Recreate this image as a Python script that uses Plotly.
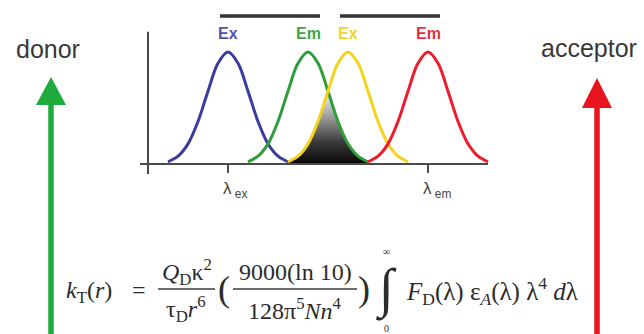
import plotly.graph_objects as go

W, H = 644, 334

# ---- data (schematic spectra, relative intensity) ----
offsets = [-60, -50, -40, -30, -20, -10, 0, 10, 20, 30, 40, 50, 60]          # nm from peak
profile = [0.02, 0.07, 0.18, 0.38, 0.65, 0.90, 1.0, 0.90, 0.65, 0.38, 0.18, 0.07, 0.02]
peak_names = ["Ex", "Em", "Ex", "Em"]
peak_nm = [430, 510, 550, 630]            # donor Ex, donor Em, acceptor Ex, acceptor Em
line_colors = ["#3b3b9e", "#2f9e3a", "#f5d31a", "#ec1c2c"]
label_colors = ["#5252aa", "#42a446", "#f2d22a", "#e8303e"]
tick_labels = ["λ<sub> ex</sub>", "λ<sub> em</sub>"]
tick_nm = [430, 630]

def px(x):
    return x / W

def py(y):
    return 1 - y / H

fig = go.Figure()

# overlap integral (min of donor emission and acceptor excitation)
g = {peak_nm[1] + o: v for o, v in zip(offsets, profile)}
yv = {peak_nm[2] + o: v for o, v in zip(offsets, profile)}
ov_x = sorted(set(g) & set(yv))
ov_y = [min(g[x], yv[x]) for x in ov_x]
fig.add_trace(go.Scatter(
    x=ov_x, y=ov_y, mode="lines", line=dict(width=0, shape="spline"),
    fill="tozeroy",
    fillgradient=dict(type="vertical", start=0, stop=max(ov_y),
                      colorscale=[[0, "#050505"], [0.3, "#3a3a3a"], [0.65, "#9e9e9e"], [1, "#f6f6f6"]]),
    hoverinfo="skip", showlegend=False))

for pk, col in zip(peak_nm, line_colors):
    fig.add_trace(go.Scatter(
        x=[pk + o for o in offsets], y=profile, mode="lines",
        line=dict(color=col, width=3, shape="spline"),
        hoverinfo="skip", showlegend=False))

shapes = []
axc = "#4a4a4a"
# axes
shapes.append(dict(type="line", xref="x", yref="y", x0=342, x1=690, y0=0, y1=0,
                   line=dict(color=axc, width=2)))
shapes.append(dict(type="line", xref="x", yref="y", x0=350, x1=350, y0=-0.09, y1=1.18,
                   line=dict(color=axc, width=2)))
for t in tick_nm:
    shapes.append(dict(type="line", xref="x", yref="y", x0=t, x1=t, y0=0, y1=-0.08,
                       line=dict(color=axc, width=2)))
# pair bars
for a, b in [(0, 1), (2, 3)]:
    shapes.append(dict(type="line", xref="x", yref="paper",
                       x0=peak_nm[a] - 8, x1=peak_nm[b] + 12, y0=py(16), y1=py(16),
                       line=dict(color="#333333", width=3.5)))

# arrows
def arrow(x, tip, base, half, col):
    shapes.append(dict(type="line", xref="paper", yref="paper",
                       x0=px(x), x1=px(x), y0=py(H + 5), y1=py(base - 2),
                       line=dict(color=col, width=5.5)))
    shapes.append(dict(type="path", xref="paper", yref="paper",
                       path=f"M {px(x)} {py(tip)} L {px(x - half)} {py(base)} L {px(x + half)} {py(base)} Z",
                       fillcolor=col, line=dict(width=0)))

arrow(51, 77, 105, 15, "#1eaa3c")
arrow(597, 78, 108, 15, "#e8141e")

# fraction bars
for x0, x1 in [(158, 215), (233, 357)]:
    shapes.append(dict(type="line", xref="paper", yref="paper",
                       x0=px(x0), x1=px(x1), y0=py(289), y1=py(289),
                       line=dict(color="#3a3a3a", width=1.3)))

ann = []
for name, pk, col in zip(peak_names, peak_nm, label_colors):
    ann.append(dict(text=f"<b>{name}</b>", x=pk, y=py(33), xref="x", yref="paper",
                    xanchor="center", yanchor="middle",
                    showarrow=False, font=dict(family="Liberation Sans", size=16, color=col)))
for lab, t in zip(tick_labels, tick_nm):
    ann.append(dict(text=lab, x=t - 7, y=py(190), xref="x", yref="paper", xanchor="left",
                    yanchor="middle",
                    showarrow=False, font=dict(family="Liberation Sans", size=17, color="#444")))

sans = dict(family="Liberation Sans", size=25, color="#383838")
ann.append(dict(text="donor", x=px(48), y=py(49), xref="paper", yref="paper", xanchor="center",
                yanchor="middle", showarrow=False, font=sans))
ann.append(dict(text="acceptor", x=px(589), y=py(48), xref="paper", yref="paper", xanchor="center",
                yanchor="middle", showarrow=False, font=sans))

serif = "Liberation Serif"
fc = "#2c2c2c"
def t(text, x, y, size=24, xanchor="center"):
    ann.append(dict(text=text, x=px(x), y=py(y), xref="paper", yref="paper", xanchor=xanchor,
                    yanchor="middle", showarrow=False, font=dict(family=serif, size=size, color=fc)))

t("<i>k</i><sub>T</sub>(<i>r</i>)", 64, 292, xanchor="left")
t("=", 139, 290)
t("<i>Q</i><sub>D</sub>κ<sup>2</sup>", 187, 272)
t("τ<sub>D</sub><i>r</i><sup>6</sup>", 186, 309)
t("(", 224, 289, size=36)
t("9000(ln 10)", 295, 272)
t("128π<sup>5</sup><i>Nn</i><sup>4</sup>", 295, 309)
t(")", 364, 289, size=36)
t("∫", 386, 289, size=54)
t("∞", 386, 251, size=10)
t("0", 386, 328, size=10)
t("<i>F</i><sub>D</sub>(λ) ε<sub><i>A</i></sub>(λ) λ<sup>4</sup> <i>d</i>λ", 404, 291, size=25,
  xanchor="left")

fig.update_layout(
    width=W, height=H, margin=dict(l=0, r=0, t=0, b=0),
    paper_bgcolor="white", plot_bgcolor="rgba(0,0,0,0)",
    xaxis=dict(domain=[140 / W, 490 / W], range=[342, 692], visible=False, fixedrange=True),
    yaxis=dict(domain=[1 - 175 / H, 1 - 28 / H], range=[(164 - 175) / 112, (164 - 28) / 112],
               visible=False, fixedrange=True),
    shapes=shapes, annotations=ann, showlegend=False,
)

fig.write_html("out.html", config={"displayModeBar": False})
